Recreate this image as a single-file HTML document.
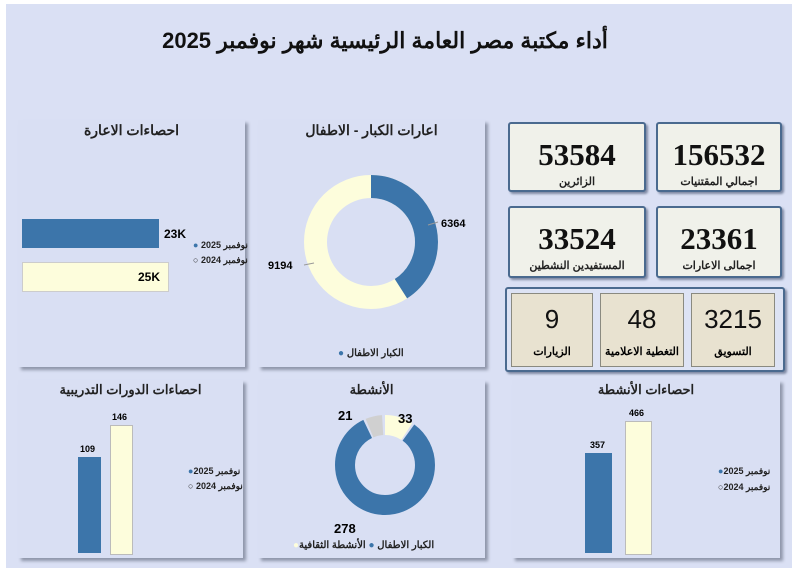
<!DOCTYPE html>
<html><head><meta charset="utf-8"><style>
body{margin:0;width:801px;height:576px;background:#fff;position:relative;overflow:hidden;font-family:"Liberation Sans","Noto Sans CJK SC",sans-serif}
.bg{position:absolute;left:6px;top:4px;width:786px;height:564px;background:#dae0f4}
.p{position:absolute;background:#d9dff3;box-shadow:3px 3px 3px #8f96aa}
.t{position:absolute;width:100%;text-align:center;font-weight:bold;font-size:14px;color:#222;top:2px}
.a{position:absolute;white-space:nowrap}
.k{position:absolute;background:#f0f1ea;border:2px solid #4a6a8f;border-radius:3px;box-shadow:2px 2px 2px #7f8aa4;text-align:center}
.k b{display:block;font-family:"Liberation Serif",serif;font-size:31px;line-height:34px;margin-top:14px;color:#111}
.k span{font-size:11px;font-weight:bold;color:#222}
.s{position:absolute;background:#e8e2d0;border:1px solid #8a8a80;text-align:center}
.s b{display:block;font-size:26px;font-weight:normal;margin-top:10px;color:#111}
.s span{display:block;font-size:11px;font-weight:bold;margin-top:10px}
.lg{position:absolute;font-size:9px;font-weight:bold;color:#222;direction:rtl;white-space:nowrap}
</style></head><body>
<div class="bg"></div>
<div class="a" style="left:0;width:770px;top:28px;text-align:center;font-size:22px;font-weight:bold;color:#111;font-family:'Liberation Sans','Noto Sans CJK SC',sans-serif">أداء مكتبة مصر العامة الرئيسية شهر نوفمبر 2025</div>

<div class="p" style="left:18px;top:120px;width:227px;height:247px"><div class="t">احصاءات الاعارة</div>
<div class="a" style="left:4px;top:99px;width:137px;height:29px;background:#3c75aa"></div>
<div class="a" style="left:4px;top:142px;width:145px;height:28px;background:#fdfddc;border:1px solid #ccc"></div>
<div class="a" style="left:146px;top:107px;font-size:12px;font-weight:bold">23K</div>
<div class="a" style="left:120px;top:150px;font-size:12px;font-weight:bold">25K</div>
<div class="lg" style="left:175px;top:120px">نوفمبر 2025 <span style="color:#3c75aa">●</span></div>
<div class="lg" style="left:175px;top:135px">نوفمبر 2024 ○</div>
</div>

<div class="p" style="left:258px;top:120px;width:227px;height:247px"><div class="t">اعارات الكبار - الاطفال</div>
<svg class="a" style="left:0;top:0" width="227" height="247">
<circle cx="113" cy="122" r="55.5" fill="none" stroke="#fdfddc" stroke-width="23"/>
<circle cx="113" cy="122" r="55.5" fill="none" stroke="#3c75aa" stroke-width="23" stroke-dasharray="142.6 400" transform="rotate(-90 113 122)"/>
<line x1="170" y1="105" x2="180" y2="102" stroke="#999"/><line x1="46" y1="145" x2="56" y2="143" stroke="#999"/>
<text x="183" y="107" font-size="11" font-weight="bold" font-family="Liberation Sans">6364</text>
<text x="10" y="149" font-size="11" font-weight="bold" font-family="Liberation Sans">9194</text>
</svg>
<div class="lg" style="left:80px;top:228px;font-size:10px">الكبار  الاطفال <span style="color:#3c75aa">●</span></div>
</div>

<div class="k" style="left:508px;top:122px;width:134px;height:66px"><b>53584</b><span>الزائرين</span></div>
<div class="k" style="left:656px;top:122px;width:122px;height:66px"><b>156532</b><span>اجمالي المقتنيات</span></div>
<div class="k" style="left:508px;top:206px;width:134px;height:68px"><b>33524</b><span>المستفيدين النشطين</span></div>
<div class="k" style="left:656px;top:206px;width:122px;height:68px"><b>23361</b><span>اجمالى الاعارات</span></div>
<div class="a" style="left:505px;top:287px;width:276px;height:81px;background:#dde3f4;border:2px solid #4a6a8f;border-radius:3px;box-shadow:2px 2px 2px #7f8aa4"></div>
<div class="s" style="left:511px;top:293px;width:80px;height:72px"><b>9</b><span>الزيارات</span></div>
<div class="s" style="left:600px;top:293px;width:82px;height:72px"><b>48</b><span>التغطية الاعلامية</span></div>
<div class="s" style="left:691px;top:293px;width:82px;height:72px"><b>3215</b><span>التسويق</span></div>

<div class="p" style="left:18px;top:380px;width:225px;height:178px"><div class="t" style="font-size:13px">احصاءات الدورات التدريبية</div>
<div class="a" style="left:60px;top:77px;width:23px;height:96px;background:#3c75aa"></div>
<div class="a" style="left:92px;top:45px;width:21px;height:128px;background:#fdfddc;border:1px solid #bbb"></div>
<div class="a" style="left:62px;top:64px;font-size:9px;font-weight:bold">109</div>
<div class="a" style="left:94px;top:32px;font-size:9px;font-weight:bold">146</div>
<div class="lg" style="left:170px;top:86px">نوفمبر 2025<span style="color:#3c75aa">●</span></div>
<div class="lg" style="left:170px;top:101px">نوفمبر 2024 ○</div>
</div>

<div class="p" style="left:258px;top:380px;width:227px;height:178px"><div class="t" style="font-size:13px">الأنشطة</div>
<svg class="a" style="left:0;top:0" width="227" height="178">
<g transform="rotate(-90 127 85)" fill="none" stroke-width="20">
<circle cx="127" cy="85" r="40" stroke="#fdfddc" stroke-dasharray="23 300"/>
<circle cx="127" cy="85" r="40" stroke="#3c75aa" stroke-dasharray="208 300" stroke-dashoffset="-25"/>
<circle cx="127" cy="85" r="40" stroke="#d0d0d0" stroke-dasharray="13.5 300" stroke-dashoffset="-235"/>
</g>
<text x="80" y="40" font-size="13" font-weight="bold" font-family="Liberation Sans">21</text>
<text x="140" y="43" font-size="13" font-weight="bold" font-family="Liberation Sans">33</text>
<text x="76" y="153" font-size="13" font-weight="bold" font-family="Liberation Sans">278</text>
</svg>
<div class="lg" style="left:35px;top:160px;font-size:10px">الكبار  الاطفال <span style="color:#3c75aa">●</span> الأنشطة الثقافية<span style="color:#fdfddc">●</span></div>
</div>

<div class="p" style="left:512px;top:380px;width:268px;height:178px"><div class="t" style="font-size:13px">احصاءات الأنشطة</div>
<div class="a" style="left:73px;top:73px;width:27px;height:100px;background:#3c75aa"></div>
<div class="a" style="left:113px;top:41px;width:25px;height:132px;background:#fdfddc;border:1px solid #bbb"></div>
<div class="a" style="left:78px;top:60px;font-size:9px;font-weight:bold">357</div>
<div class="a" style="left:117px;top:28px;font-size:9px;font-weight:bold">466</div>
<div class="lg" style="left:206px;top:86px">نوفمبر 2025<span style="color:#3c75aa">●</span></div>
<div class="lg" style="left:206px;top:102px">نوفمبر 2024○</div>
</div>
</body></html>
